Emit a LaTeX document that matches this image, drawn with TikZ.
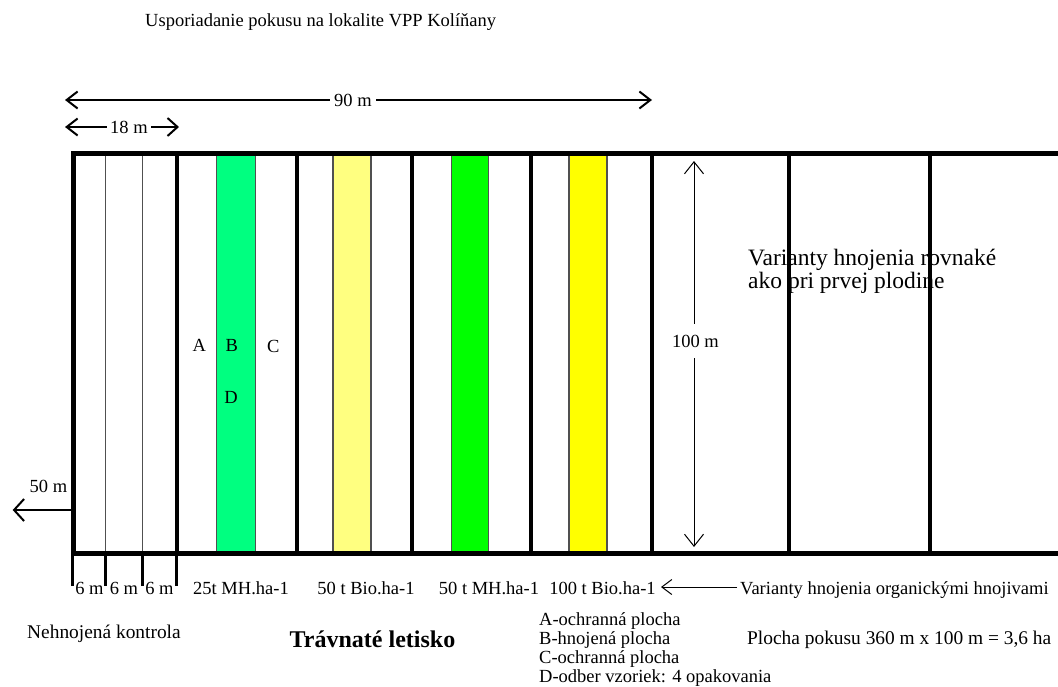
\documentclass[tikz,border=0pt]{standalone}
\usepackage{fontspec}
\setmainfont{Liberation Serif}
\usetikzlibrary{arrows.meta}
\definecolor{springg}{RGB}{0,255,128}
\definecolor{paley}{RGB}{255,255,128}
\definecolor{limeg}{RGB}{0,255,0}
\definecolor{purey}{RGB}{255,255,0}
\definecolor{edgegray}{RGB}{80,80,80}
\begin{document}
\begin{tikzpicture}[x=1pt,y=-1pt,
  txt/.style={font=\fontsize{18.5}{21}\selectfont, inner sep=0pt},
  widetxt/.style={font=\fontsize{19.4}{22}\selectfont, inner sep=0pt},
  bigtxt/.style={font=\fontsize{23.5}{26}\selectfont, inner sep=0pt},
  boldtxt/.style={font=\fontsize{24}{27}\selectfont\bfseries, inner sep=0pt},
  dimlabel/.style={txt, fill=white, inner xsep=4pt, inner ysep=1pt},
  strip/.style={draw=edgegray, line width=1.2pt},
  heavy/.style={line width=4.6pt, line join=miter, line cap=rect},
  thinsep/.style={draw=edgegray, line width=1.5pt},
  tick/.style={line width=2.2pt},
  dimarrow/.style={line width=2pt, {Straight Barb[length=11pt,width=17pt]}-{Straight Barb[length=11pt,width=17pt]}},
  thinarrow/.style={line width=1pt, {Straight Barb[length=12pt,width=19pt]}-{Straight Barb[length=12pt,width=19pt]}}
]
\useasboundingbox (0,0) rectangle (1058,686);

% coloured strips
\path[strip, fill=springg] (216.5,155) rectangle (255.5,552);
\path[strip, fill=paley]   (333,155) rectangle (371,552);
\path[strip, fill=limeg]   (451.5,155) rectangle (488.5,552);
\path[strip, fill=purey]   (569,155) rectangle (607,552);

% text under the heavy lines
\node[bigtxt, anchor=base west] (var1) at (748,265) {Varianty hnojenia rovnaké};
\node[bigtxt, anchor=base west] (var2) at (748,288) {ako pri prvej plodine};

% thin separators in the control block
\draw[thinsep] (105.7,155) -- (105.7,552);
\draw[thinsep] (142.7,155) -- (142.7,552);

% heavy frame and block lines
\draw[heavy] (1060,153.5) -- (73.5,153.5) -- (73.5,553.5) -- (1060,553.5);
\foreach \xx in {177,297,412,531,652,789,930}
  \draw[heavy] (\xx,153.5) -- (\xx,553.5);

% ticks below
\foreach \xx in {72.5,105.5,142.5,176.5}
  \draw[tick] (\xx,553.5) -- (\xx,586);

% title
\node[txt, anchor=base west] (title) at (145,26) {Usporiadanie pokusu na lokalite VPP Kolíňany};

% 90 m dimension
\coordinate (d90a) at (65,100);
\coordinate (d90b) at (652,100);
\draw[dimarrow] (d90a) -- (d90b);
\node[dimlabel] (l90) at (353,100) {90 m};

% 18 m dimension
\coordinate (d18a) at (65,127);
\coordinate (d18b) at (179,127);
\draw[dimarrow, {Straight Barb[length=11pt,width=17pt]}-{Straight Barb[length=10pt,width=18pt]}] (d18a) -- (d18b);
\node[dimlabel, inner xsep=3pt] (l18) at (129,127) {18 m};

% 50 m
\node[txt] (l50) at (48.5,486.5) {50 m};
\coordinate (a50s) at (72,510);
\coordinate (a50e) at (12.7,510);
\draw[line width=2pt, -{Straight Barb[length=10pt,width=22pt]}] (a50s) -- (a50e);

% 100 m
\coordinate (h100a) at (694,161);
\coordinate (h100b) at (694,547);
\draw[thinarrow] (h100a) -- (h100b);
\node[txt, fill=white, inner xsep=0pt, inner ysep=11pt] (l100) at (695.5,341) {100 m};

% letters
\node[txt] (lA) at (199.3,345) {A};
\node[txt] (lB) at (231.7,345) {B};
\node[txt] (lC) at (273.3,346.7) {C};
\node[txt] (lD) at (231,397.3) {D};

% bottom labels
\node[txt, anchor=base] (m1) at (89.5,594) {6 m};
\node[txt, anchor=base] (m2) at (124,594) {6 m};
\node[txt, anchor=base] (m3) at (159.5,594) {6 m};
\node[txt, anchor=base] (v1) at (241,594) {25t MH.ha-1};
\node[txt, anchor=base] (v2) at (366,594) {50 t Bio.ha-1};
\node[txt, anchor=base] (v3) at (489,594) {50 t MH.ha-1};
\node[txt, anchor=base] (v4) at (602.5,594) {100 t Bio.ha-1};
\node[txt, anchor=base west] (vorg) at (740,594) {Varianty hnojenia organickými hnojivami};
\coordinate (vtip) at (661,587);
\draw[line width=1pt, -{Straight Barb[length=10pt,width=15pt]}] (vorg.west |- vtip) ++(-3,0) -- (vtip);

% lower texts
\node[widetxt, anchor=base west] (nehn) at (27,638) {Nehnojená kontrola};
\node[boldtxt, anchor=base] (trav) at (372.5,647) {Trávnaté letisko};
\node[txt, anchor=base west] (legA) at (539,625) {A-ochranná plocha};
\node[txt, anchor=base west] (legB) at (539,644) {B-hnojená plocha};
\node[txt, anchor=base west] (legC) at (539,663) {C-ochranná plocha};
\node[txt, anchor=base west] (legD) at (539,682) {D-odber vzoriek: 4 opakovania};
\node[widetxt, anchor=base west] (plocha) at (747,644) {Plocha pokusu 360 m x 100 m = 3,6 ha};
\end{tikzpicture}
\end{document}
